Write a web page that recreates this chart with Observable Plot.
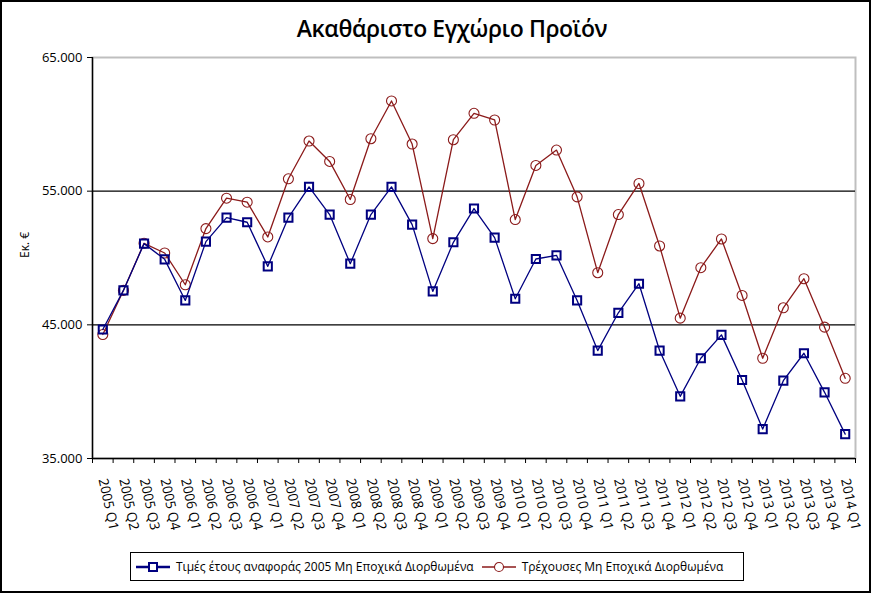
<!DOCTYPE html>
<html>
<head>
<meta charset="utf-8">
<script src="https://cdn.jsdelivr.net/npm/d3@7"></script>
<script src="https://cdn.jsdelivr.net/npm/@observablehq/plot@0.6"></script>
<style>
  html, body { margin: 0; padding: 0; background: #fff; }
  body { width: 872px; height: 595px; position: relative; overflow: hidden; font-family: "Open Sans", "Noto Sans", sans-serif; }
  #border { position: absolute; left: 0; top: 0; width: 871px; height: 593px; border: 2px solid #000; box-sizing: border-box; }
  #title { position: absolute; left: 0; width: 904px; top: 12px; text-align: center; font-size: 23px; font-weight: 600; letter-spacing: -0.4px; color: #000; }
  #chart { position: absolute; left: 0; top: 45px; }
  #legend { position: absolute; left: 130px; top: 552px; width: 614px; height: 29px; border: 1px solid #000; box-sizing: border-box; display: flex; align-items: center; font-size: 12px; color: #000; white-space: nowrap; }
  #legend .item { display: flex; align-items: center; flex-shrink: 0; }
  #legend svg { display: block; flex-shrink: 0; }
</style>
</head>
<body>
<div id="border"></div>
<div id="title">Ακαθάριστο Εγχώριο Προϊόν</div>
<div id="chart"></div>
<div id="legend"></div>
<script>
const quarters = [
  "2005 Q1","2005 Q2","2005 Q3","2005 Q4",
  "2006 Q1","2006 Q2","2006 Q3","2006 Q4",
  "2007 Q1","2007 Q2","2007 Q3","2007 Q4",
  "2008 Q1","2008 Q2","2008 Q3","2008 Q4",
  "2009 Q1","2009 Q2","2009 Q3","2009 Q4",
  "2010 Q1","2010 Q2","2010 Q3","2010 Q4",
  "2011 Q1","2011 Q2","2011 Q3","2011 Q4",
  "2012 Q1","2012 Q2","2012 Q3","2012 Q4",
  "2013 Q1","2013 Q2","2013 Q3","2013 Q4",
  "2014 Q1"
];
const constantPrices = [
  44650, 47575, 51075, 49900,
  46825, 51225, 53025, 52675,
  49375, 53025, 55325, 53250,
  49575, 53250, 55325, 52500,
  47500, 51175, 53700, 51525,
  46950, 49925, 50200, 46825,
  43075, 45900, 48075, 43075,
  39650, 42500, 44250, 40875,
  37200, 40825, 42875, 39950,
  36825
];
const currentPrices = [
  44275, 47575, 51100, 50375,
  48000, 52200, 54475, 54175,
  51575, 55925, 58750, 57225,
  54375, 58925, 61750, 58525,
  51450, 58850, 60825, 60325,
  52875, 56925, 58075, 54575,
  48900, 53250, 55575, 50900,
  45500, 49275, 51425, 47200,
  42500, 46275, 48450, 44825,
  41000
];
const seriesNames = [
  "Τιμές έτους αναφοράς 2005 Μη Εποχικά Διορθωμένα",
  "Τρέχουσες Μη Εποχικά Διορθωμένα"
];
const yTicks = [35000, 45000, 55000, 65000];
const gridValues = [45000, 55000];
const yLabel = "Εκ. €";

const blue = "#000080";
const red = "#8B1A1A";

const boundaries = d3.range(quarters.length + 1).map(i => i - 0.5);
const blueData = quarters.map((q, i) => ({i, v: constantPrices[i]}));
const redData = quarters.map((q, i) => ({i, v: currentPrices[i]}));

const fmt = d3.formatLocale({decimal: ",", thousands: ".", grouping: [3], currency: ["", "€"]}).format(",");

const chart = Plot.plot({
  width: 872,
  height: 500,
  marginLeft: 92,
  marginRight: 17,
  marginTop: 12,
  marginBottom: 87,
  style: {fontFamily: "'Open Sans', 'Noto Sans', sans-serif", background: "transparent", color: "#000"},
  x: {type: "linear", domain: [-0.5, quarters.length - 0.5], axis: null},
  y: {domain: [35000, 65000], axis: null},
  marks: [
    Plot.frame({stroke: "#bfbfbf", strokeWidth: 2}),
    Plot.ruleY(gridValues, {stroke: "#000", strokeWidth: 1.2}),
    Plot.ruleY([yTicks[0]], {stroke: "#000", strokeWidth: 1.4}),
    Plot.ruleX([boundaries[0]], {stroke: "#000", strokeWidth: 1.4}),
    Plot.axisY(yTicks, {tickSize: 5, tickPadding: 5, tickFormat: fmt, fontSize: 13, label: null, stroke: "#000", fill: "#000"}),
    Plot.axisX(boundaries, {tickSize: 5, tickFormat: () => "", label: null, stroke: "#000"}),
    Plot.text(quarters, {x: (d, i) => i, frameAnchor: "bottom", dy: 20, rotate: 78, textAnchor: "start", lineAnchor: "middle", fontSize: 13.5, fill: "#000"}),
    Plot.text([yLabel], {frameAnchor: "left", dx: -67, rotate: -90, fontSize: 12, fill: "#000"}),
    Plot.line(redData, {x: "i", y: "v", stroke: red, strokeWidth: 1.3}),
    Plot.dot(redData, {x: "i", y: "v", stroke: red, strokeWidth: 1.1, r: 5, fill: "none"}),
    Plot.line(blueData, {x: "i", y: "v", stroke: blue, strokeWidth: 1.3}),
    Plot.dot(blueData, {x: "i", y: "v", symbol: "square", stroke: blue, strokeWidth: 2, r: 4.6, fill: "none"})
  ]
});
document.getElementById("chart").appendChild(chart);

// legend
const legend = document.getElementById("legend");
const swatch = (color, kind) => {
  const ns = "http://www.w3.org/2000/svg";
  const s = document.createElementNS(ns, "svg");
  s.setAttribute("width", 38); s.setAttribute("height", 14);
  const l = document.createElementNS(ns, "line");
  l.setAttribute("x1", 0); l.setAttribute("x2", 34); l.setAttribute("y1", 7); l.setAttribute("y2", 7);
  l.setAttribute("stroke", color); l.setAttribute("stroke-width", kind === "square" ? 2.5 : 1.3);
  s.appendChild(l);
  let m;
  if (kind === "square") {
    m = document.createElementNS(ns, "rect");
    m.setAttribute("x", 13); m.setAttribute("y", 3); m.setAttribute("width", 8); m.setAttribute("height", 8);
    m.setAttribute("stroke-width", 2);
  } else {
    m = document.createElementNS(ns, "circle");
    m.setAttribute("cx", 17); m.setAttribute("cy", 7); m.setAttribute("r", 4.5);
    m.setAttribute("stroke-width", 1.1);
  }
  m.setAttribute("fill", "#fff"); m.setAttribute("stroke", color);
  s.appendChild(m);
  return s;
};
[[seriesNames[0], blue, "square", 5], [seriesNames[1], red, "circle", 8]].forEach(([name, color, kind, ml]) => {
  const it = document.createElement("div");
  it.className = "item";
  it.style.marginLeft = ml + "px";
  it.appendChild(swatch(color, kind));
  const t = document.createElement("span");
  t.textContent = name;
  t.style.marginLeft = "2px";
  it.appendChild(t);
  legend.appendChild(it);
});
</script>
</body>
</html>
